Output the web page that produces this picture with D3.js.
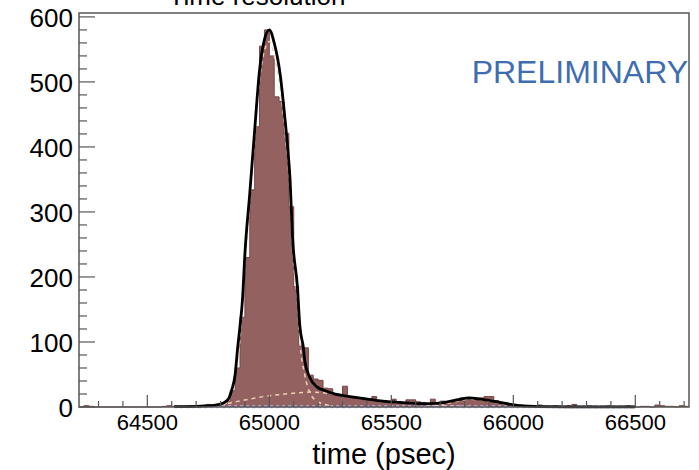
<!DOCTYPE html>
<html>
<head>
<meta charset="utf-8">
<script src="https://cdn.jsdelivr.net/npm/d3@7"></script>
<style>
  body { margin: 0; background: #fff; }
  svg { display: block; font-family: "Liberation Sans", Arial, sans-serif; }
</style>
</head>
<body>
<div id="chart"></div>
<script>
// histogram: 20 psec bins starting at 64220
var binLow = 64220, binWidth = 20;
var counts = [
  0, 2, 1, 0, 0, 0, 0, 0, 0, 0,
  0, 0, 0, 0, 0, 0, 0, 1, 2, 1,
  0, 1, 2, 1, 2, 2, 4, 2, 3, 5,
  9, 25, 60, 138, 230, 334, 431, 555, 580, 540,
  477, 470, 421, 308, 185, 95, 91, 49, 43, 41,
  29, 28, 18, 18, 32, 16, 14, 14, 11, 11,
  16, 10, 10, 8, 12, 8, 6, 11, 11, 8,
  7, 5, 12, 5, 9, 8, 7, 12, 14, 14,
  13, 12, 14, 16, 16, 10, 6, 4, 3, 2,
  3, 1, 2, 1, 3, 1, 1, 2, 1, 0,
  2, 4, 1, 0, 2, 1, 0, 1, 2, 1,
  0, 1, 2, 1, 0, 1, 1, 0, 3, 2,
  1, 1, 0, 2, 1
];

// total fit
var fitTime  = [64610, 64720, 64780, 64805, 64820, 64835, 64845, 64860, 64870, 64880, 64890, 64900,
                64920, 64940, 64960, 64980, 65000, 65020, 65045, 65065, 65075, 65085, 65095, 65115,
                65125, 65140, 65145, 65165, 65195, 65230, 65260, 65330, 65390, 65465, 65535, 65615,
                65700, 65770, 65820, 65865, 65915, 65975, 66025, 66110, 66230, 66500];
var fitCount = [0.5, 1.5, 3, 5, 8, 14, 25, 50, 90, 125, 165, 236,
                329, 426, 518, 565, 580, 560, 510, 440, 400, 350, 262, 185,
                125, 90, 72, 46, 31, 25, 21, 16, 13, 9, 7, 5,
                6, 11, 14, 12, 9, 5, 2, 0.7, 0.3, 0.2];

// fit components
var narrowTime  = [64780, 64820, 64845, 64860, 64880, 64900, 64920, 64940, 64960, 64980, 65000, 65020,
                   65045, 65065, 65085, 65095, 65115, 65125, 65145, 65165, 65195, 65230, 65260];
var narrowCount = [1, 5, 25, 50, 105, 220, 315, 410, 503, 548, 562, 540,
                   490, 420, 330, 245, 165, 103, 50, 23, 9, 4, 1];
var broadTime  = [64700, 64760, 64810, 64860, 64920, 64960, 65040, 65125, 65170, 65260, 65330, 65390,
                  65465, 65535, 65615, 65700, 65780, 65900];
var broadCount = [1, 2, 4, 8, 12, 15, 19, 22, 23, 20, 16, 13, 9, 6, 4, 2, 1, 0.3];
var bumpTime  = [65600, 65700, 65770, 65820, 65865, 65915, 65975, 66030, 66110];
var bumpCount = [0, 3, 9, 12, 11, 8, 4, 1.5, 0.3];
var flatTime  = [64610, 66500];
var flatCount = [0.4, 0.4];

var xTicks = [64500, 65000, 65500, 66000, 66500];
var yTicks = [0, 100, 200, 300, 400, 500, 600];

var W = 699, H = 470;
var frameL = 79, frameR = 689, frameT = 13, frameB = 407;

var svg = d3.select("#chart").append("svg")
    .attr("width", W).attr("height", H);

var x = d3.scaleLinear().domain([64220, 66720]).range([frameL, frameR]);
var y = d3.scaleLinear().domain([0, 606]).range([frameB, frameT]);

// histogram as one stepped shape, so there are no seams between bins
var stepPts = [];
counts.forEach(function(c, i){
    stepPts.push([binLow + i*binWidth, c]);
    stepPts.push([binLow + (i+1)*binWidth, c]);
});
svg.append("path")
    .attr("d", d3.area()
        .x(function(d){ return x(d[0]); })
        .y0(y(0))
        .y1(function(d){ return y(d[1]); })(stepPts))
    .attr("fill", "#946161");
svg.append("path")
    .attr("d", d3.line().x(function(d){ return x(d[0]); }).y(function(d){ return y(d[1]); })(stepPts))
    .attr("fill", "none")
    .attr("stroke", "#7a4444")
    .attr("stroke-width", 1);

function curve(ts, cs){
    return d3.line().curve(d3.curveMonotoneX)
        .x(function(d){ return x(d[0]); })
        .y(function(d){ return y(d[1]); })(ts.map(function(t, i){ return [t, cs[i]]; }));
}

// dashed components
[[narrowTime, narrowCount], [broadTime, broadCount], [bumpTime, bumpCount]].forEach(function(p){
    svg.append("path")
        .attr("d", curve(p[0], p[1]))
        .attr("fill", "none")
        .attr("stroke", "#ecd2b0")
        .attr("stroke-width", 1.5)
        .attr("stroke-dasharray", "4,4");
});
svg.append("path")
    .attr("d", curve(flatTime, flatCount))
    .attr("fill", "none")
    .attr("stroke", "#b9b8f2")
    .attr("stroke-width", 3)
    .attr("stroke-dasharray", "3,3");

// total fit
svg.append("path")
    .attr("d", curve(fitTime, fitCount))
    .attr("fill", "none")
    .attr("stroke", "#000")
    .attr("stroke-width", 2.8)
    .attr("stroke-linejoin", "round");

// ticks (ROOT style, inside the frame)
var tickColor = "#555";
var g = svg.append("g").attr("stroke", tickColor).attr("stroke-width", 1.2);
d3.range(64300, 66720, 100).forEach(function(t){
    var major = t % 500 === 0;
    g.append("line").attr("x1", x(t)).attr("x2", x(t))
        .attr("y1", frameB).attr("y2", frameB - (major ? 12 : 6));
});
d3.range(0, 606, 20).forEach(function(v){
    var major = v % 100 === 0;
    g.append("line").attr("x1", frameL).attr("x2", frameL + (major ? 16 : 8))
        .attr("y1", y(v)).attr("y2", y(v));
});

// frame
svg.append("rect")
    .attr("x", frameL).attr("y", frameT)
    .attr("width", frameR - frameL).attr("height", frameB - frameT)
    .attr("fill", "none").attr("stroke", "#555").attr("stroke-width", 1.5);

// tick labels
svg.append("g").selectAll("text").data(yTicks).enter().append("text")
    .attr("x", 73).attr("y", function(d){ return y(d) + 10; })
    .attr("text-anchor", "end")
    .attr("font-size", 26)
    .text(function(d){ return d; });

svg.append("g").selectAll("text").data(xTicks).enter().append("text")
    .attr("x", function(d){ return x(d); }).attr("y", 430)
    .attr("text-anchor", "middle")
    .attr("font-size", 22)
    .text(function(d){ return d; });

// titles
svg.append("text")
    .attr("x", (frameL + frameR)/2).attr("y", 464)
    .attr("text-anchor", "middle")
    .attr("font-size", 29)
    .text("time (psec)");

svg.append("text")
    .attr("x", 257).attr("y", 5)
    .attr("text-anchor", "middle")
    .attr("font-size", 26)
    .text("Time resolution");

svg.append("text")
    .attr("x", 688).attr("y", 83)
    .attr("text-anchor", "end")
    .attr("font-size", 32)
    .attr("fill", "#3f6db2")
    .text("PRELIMINARY");
</script>
</body>
</html>
